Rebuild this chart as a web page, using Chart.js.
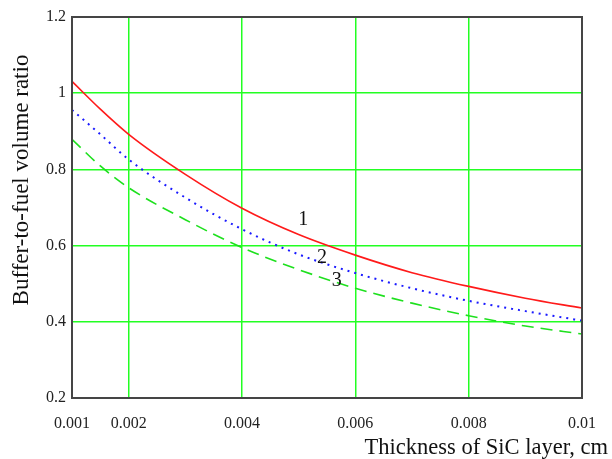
<!DOCTYPE html>
<html>
<head>
<meta charset="utf-8">
<script src="https://cdn.jsdelivr.net/npm/chart.js@4/dist/chart.umd.min.js"></script>
<style>
  html, body { margin: 0; padding: 0; background: #fff; }
  canvas { display: block; }
</style>
</head>
<body>
<canvas id="chart" width="612" height="459"></canvas>
<script>
  // SiC layer thickness, cm
  const thickness = [0.001, 0.0015, 0.002, 0.003, 0.004, 0.005, 0.006, 0.007, 0.008, 0.009, 0.01];

  // buffer-to-fuel volume ratio, curves 1..3
  const curve1 = [1.031, 0.958, 0.892, 0.787, 0.698, 0.629, 0.575, 0.529, 0.493, 0.462, 0.436];
  const curve2 = [0.956, 0.892, 0.826, 0.726, 0.643, 0.577, 0.528, 0.488, 0.455, 0.428, 0.403];
  const curve3 = [0.879, 0.809, 0.752, 0.668, 0.595, 0.537, 0.488, 0.449, 0.416, 0.389, 0.368];

  const xTicks = [0.001, 0.002, 0.004, 0.006, 0.008, 0.01];
  const yTicks = [0.2, 0.4, 0.6, 0.8, 1, 1.2];

  // curve number labels, in data coordinates
  const curveLabels = [
    { text: '1', x: 0.00508, y: 0.667 },
    { text: '2', x: 0.00541, y: 0.567 },
    { text: '3', x: 0.00567, y: 0.507 }
  ];

  const serif = '"Liberation Serif", "Times New Roman", serif';
  const gridColor = '#22ff22';

  function toPoints(ys) {
    return thickness.map((x, i) => ({ x: x, y: ys[i] }));
  }

  function lineDataset(ys, color, dash, width) {
    return {
      data: toPoints(ys),
      showLine: true,
      borderColor: color,
      borderWidth: width,
      borderDash: dash,
      pointRadius: 0,
      cubicInterpolationMode: 'monotone',
      fill: false
    };
  }

  const decorPlugin = {
    id: 'decor',
    afterDatasetsDraw(chart) {
      const ctx = chart.ctx;
      const area = chart.chartArea;
      const xs = chart.scales.x;
      const ys = chart.scales.y;

      ctx.save();
      ctx.fillStyle = '#111';
      ctx.font = '20px ' + serif;
      ctx.textAlign = 'center';
      ctx.textBaseline = 'middle';
      curveLabels.forEach(l => {
        ctx.fillText(l.text, xs.getPixelForValue(l.x), ys.getPixelForValue(l.y));
      });

      // frame
      ctx.strokeStyle = '#454545';
      ctx.lineWidth = 2;
      ctx.strokeRect(area.left, area.top, area.right - area.left, area.bottom - area.top);

      // axis titles
      ctx.fillStyle = '#111';
      ctx.font = '22.5px ' + serif;
      ctx.textAlign = 'right';
      ctx.textBaseline = 'alphabetic';
      ctx.fillText('Thickness of SiC layer, cm', area.right + 26, 454);

      ctx.translate(28, 180);
      ctx.rotate(-Math.PI / 2);
      ctx.textAlign = 'center';
      ctx.font = '23px ' + serif;
      ctx.fillText('Buffer-to-fuel volume ratio', 0, 0);
      ctx.restore();
    }
  };

  new Chart(document.getElementById('chart').getContext('2d'), {
    type: 'scatter',
    data: {
      datasets: [
        lineDataset(curve1, '#ff1a1a', [], 1.6),
        lineDataset(curve2, '#1a1aff', [2, 5], 2),
        lineDataset(curve3, '#1ee01e', [12, 7], 1.6)
      ]
    },
    options: {
      responsive: false,
      animation: false,
      layout: {
        padding: { left: 0, right: 28, top: 17, bottom: 0 }
      },
      plugins: {
        legend: { display: false },
        tooltip: { enabled: false }
      },
      scales: {
        x: {
          type: 'linear',
          min: 0.001,
          max: 0.01,
          afterBuildTicks: scale => {
            scale.ticks = xTicks.map(v => ({ value: v }));
          },
          afterFit: scale => {
            scale.height = 61;
          },
          grid: {
            color: gridColor,
            lineWidth: 1.5,
            drawTicks: false
          },
          border: { display: false },
          ticks: {
            padding: 16,
            maxRotation: 0,
            autoSkip: false,
            color: '#222',
            font: { family: serif, size: 16 },
            callback: v => String(parseFloat(v.toFixed(4)))
          }
        },
        y: {
          type: 'linear',
          min: 0.2,
          max: 1.2,
          afterBuildTicks: scale => {
            scale.ticks = yTicks.map(v => ({ value: v }));
          },
          afterFit: scale => {
            scale.width = 72;
          },
          grid: {
            color: gridColor,
            lineWidth: 1.5,
            drawTicks: false
          },
          border: { display: false },
          ticks: {
            padding: 6,
            autoSkip: false,
            color: '#222',
            font: { family: serif, size: 16 },
            callback: v => String(parseFloat(v.toFixed(2)))
          }
        }
      }
    },
    plugins: [decorPlugin]
  });
</script>
</body>
</html>
